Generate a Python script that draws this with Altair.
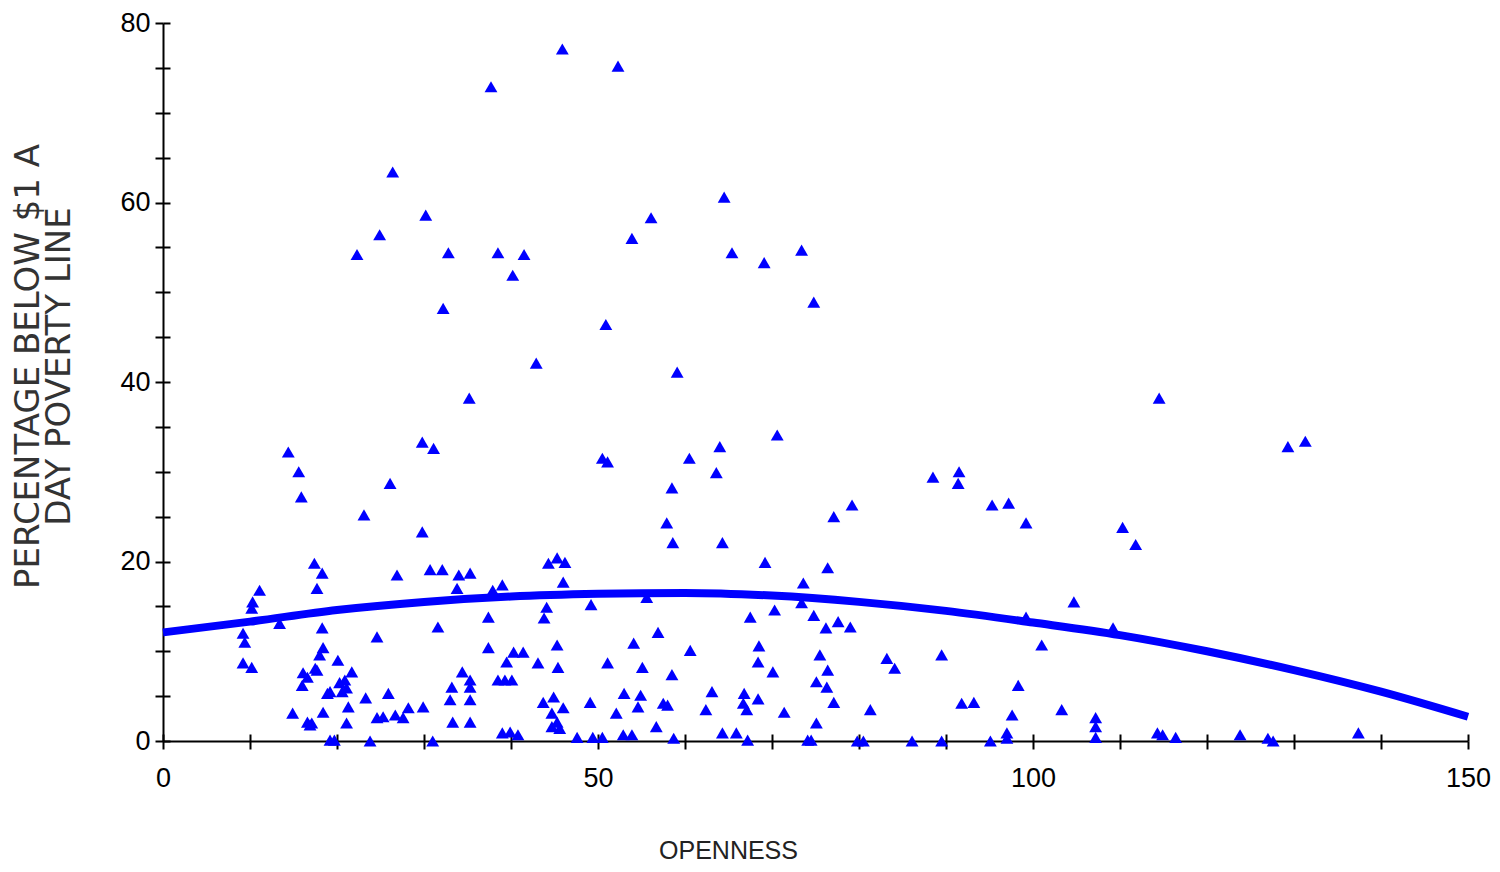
import altair as alt
import pandas as pd

# Scatter: openness vs. percentage below $1 a day poverty line
openness = [
    45.9, 52.3, 37.7, 26.4, 64.5, 30.2, 56.1, 24.9, 53.9, 22.3,
    32.8, 38.5, 41.5, 40.2, 65.4, 69.1, 73.4, 74.8, 32.2, 50.9,
    42.9, 59.1, 35.2, 114.5, 70.6, 29.8, 31.1, 129.3, 131.3, 14.4,
    64.0, 50.5, 51.1, 60.5, 15.6, 15.9, 63.6, 88.5, 91.5, 91.4,
    26.1, 58.5, 79.2, 95.3, 97.2, 99.2, 77.1, 57.9, 110.3, 111.8,
    23.1, 29.8, 64.3, 58.6, 17.4, 18.3, 17.7, 26.9, 30.7, 32.1,
    34.0, 35.3, 33.8, 44.3, 45.3, 46.2, 46.0, 39.0, 37.9, 44.1,
    43.8, 49.2, 55.6, 69.2, 76.4, 73.6, 73.4, 74.8, 67.5, 70.3,
    76.2, 77.6, 79.0, 104.7, 11.1, 10.3, 10.2, 13.4, 9.2, 9.4,
    9.2, 10.2, 18.3, 18.4, 18.0, 24.6, 31.6, 37.4, 37.4, 40.3,
    41.4, 45.3, 54.1, 60.6, 68.5, 56.9, 39.5, 43.1, 45.4, 51.1,
    55.1, 68.4, 58.5, 70.1, 38.5, 39.3, 40.1, 43.7, 44.9, 46.0,
    44.7, 45.3, 45.6, 44.7, 49.1, 52.1, 53.0, 54.9, 54.6, 57.5,
    58.0, 56.7, 63.1, 62.4, 66.8, 66.7, 67.1, 68.4, 71.4, 39.0,
    39.9, 40.8, 47.6, 49.4, 50.5, 52.9, 53.9, 58.7, 64.3, 65.9,
    67.2, 74.1, 16.1, 16.6, 16.0, 17.5, 17.7, 20.1, 21.7, 20.9,
    20.3, 21.1, 20.6, 19.2, 18.9, 21.3, 21.1, 23.3, 25.9, 29.9,
    28.2, 26.7, 25.3, 24.6, 27.6, 34.4, 35.3, 35.3, 33.2, 33.0,
    35.3, 33.3, 35.3, 14.9, 18.4, 16.6, 17.1, 16.9, 19.2, 19.7,
    23.8, 31.0, 101.0, 75.5, 76.4, 76.3, 75.1, 77.1, 83.2, 84.1,
    89.5, 98.3, 81.3, 91.8, 93.2, 97.6, 103.3, 75.1, 107.2, 107.2,
    74.5, 79.8, 80.5, 86.1, 89.5, 95.1, 97.0, 97.0, 107.2, 114.3,
    114.9, 116.4, 123.8, 127.0, 127.6, 137.4, 99.2, 109.2,
]
poverty = [
    77.1, 75.2, 72.9, 63.4, 60.6, 58.6, 58.3, 56.4, 56.0, 54.2,
    54.4, 54.4, 54.2, 51.9, 54.4, 53.3, 54.7, 48.9, 48.2, 46.4,
    42.1, 41.1, 38.2, 38.2, 34.1, 33.3, 32.6, 32.8, 33.4, 32.2,
    32.8, 31.5, 31.1, 31.5, 30.0, 27.2, 29.9, 29.4, 30.0, 28.7,
    28.7, 28.2, 26.3, 26.3, 26.5, 24.3, 25.0, 24.3, 23.8, 21.9,
    25.2, 23.3, 22.1, 22.1, 19.8, 18.7, 17.0, 18.5, 19.1, 19.1,
    18.5, 18.7, 17.0, 19.8, 20.4, 19.9, 17.7, 17.4, 16.8, 14.9,
    13.7, 15.2, 16.0, 19.9, 19.3, 17.6, 15.4, 14.0, 13.8, 14.6,
    12.6, 13.3, 12.7, 15.5, 16.8, 15.5, 14.8, 13.1, 12.0, 11.0,
    8.7, 8.2, 12.6, 10.4, 9.6, 11.6, 12.7, 13.8, 10.4, 9.9,
    9.9, 10.7, 10.9, 10.1, 10.6, 12.1, 8.8, 8.7, 8.2, 8.7,
    8.2, 8.8, 7.4, 7.7, 6.8, 6.8, 6.8, 4.3, 4.9, 3.7,
    3.1, 2.1, 1.4, 1.6, 4.3, 3.1, 5.3, 5.1, 3.8, 4.2,
    4.0, 1.6, 5.5, 3.5, 5.3, 4.2, 3.5, 4.7, 3.2, 0.9,
    1.0, 0.7, 0.4, 0.4, 0.4, 0.7, 0.7, 0.3, 0.9, 0.9,
    0.1, 0.1, 7.6, 7.1, 6.2, 8.1, 7.9, 9.0, 7.7, 6.8,
    6.5, 5.9, 5.5, 5.5, 5.3, 3.8, 2.0, 4.8, 5.3, 3.8,
    3.7, 2.9, 2.7, 2.6, 2.6, 7.7, 6.8, 6.0, 6.0, 4.6,
    4.6, 2.1, 2.1, 3.1, 3.2, 2.1, 2.0, 1.8, 0.1, 0.1,
    0.0, 0.0, 10.7, 9.6, 7.9, 6.0, 6.6, 4.3, 9.2, 8.1,
    9.6, 6.2, 3.5, 4.2, 4.3, 2.9, 3.5, 2.0, 2.6, 1.6,
    0.1, 0.0, 0.0, 0.0, 0.0, 0.0, 0.9, 0.3, 0.4, 0.9,
    0.7, 0.4, 0.7, 0.3, 0.0, 0.9, 13.8, 12.6,
]

# Fitted curve
fit_x = [0, 10, 20, 30, 40, 50, 60, 70, 80, 90, 100, 110, 120, 130, 140, 150]
fit_y = [12.1, 13.3, 14.6, 15.5, 16.1, 16.4, 16.5, 16.2, 15.5, 14.5, 13.2, 11.8, 10.0, 7.9, 5.5, 2.7]

x_ticks = list(range(0, 151, 10))
y_ticks = list(range(0, 81, 5))

pts = pd.DataFrame({"OPENNESS": openness, "POVERTY": poverty})
fit = pd.DataFrame({"OPENNESS": fit_x, "POVERTY": fit_y})

BLUE = "#0000FF"
FONT = "Liberation Sans, Arial, sans-serif"
SCALE_X = alt.Scale(domain=[0, 150], nice=False, zero=False)
SCALE_Y = alt.Scale(domain=[0, 80], nice=False)

# Main (outer) axes with labels and titles
line = alt.Chart(fit).mark_line(
    color=BLUE, strokeWidth=8, clip=False, interpolate="monotone"
).encode(
    x=alt.X(
        "OPENNESS:Q",
        scale=SCALE_X,
        axis=alt.Axis(
            values=x_ticks,
            labelExpr="datum.value % 50 == 0 ? datum.label : ''",
            title="OPENNESS",
            titleX=565,
            titleY=109,
            titleAlign="center",
            titleBaseline="middle",
            titleFontSize=25,
            tickSize=8,
            labelPadding=16,
        ),
    ),
    y=alt.Y(
        "POVERTY:Q",
        scale=SCALE_Y,
        axis=alt.Axis(
            values=y_ticks,
            labelExpr="datum.value % 20 == 0 ? datum.label : ''",
            title=["PERCENTAGE BELOW $1  A", "DAY POVERTY LINE"],
            titleFont="DejaVu Sans",
            titleFontSize=34,
            titleLineHeight=31,
            titleAngle=270,
            titleX=-135,
            titleY=343,
            titleAlign="center",
            titleBaseline="middle",
            titleColor="#333333",
            tickSize=8,
            labelPadding=5,
        ),
    ),
)

# Inner halves of the crossing tick marks
points = alt.Chart(pts).mark_point(
    shape="triangle-up", filled=True, color=BLUE, size=165, opacity=1, clip=False
).encode(
    x=alt.X(
        "OPENNESS:Q",
        scale=SCALE_X,
        axis=alt.Axis(
            orient="top", offset=-718, values=x_ticks, labels=False, title=None,
            domain=False, tickSize=7,
        ),
    ),
    y=alt.Y(
        "POVERTY:Q",
        scale=SCALE_Y,
        axis=alt.Axis(
            orient="right", offset=-1305, values=y_ticks, labels=False, title=None,
            domain=False, tickSize=7,
        ),
    ),
)

chart = (
    alt.layer(line, points)
    .resolve_axis(x="independent", y="independent")
    .properties(
        width=1305,
        height=718,
        autosize=alt.AutoSizeParams(type="none"),
        padding={"left": 155, "top": 15, "right": 24, "bottom": 123},
        background="white",
    )
    .configure_view(stroke=None)
    .configure_axis(
        grid=False,
        domainColor="black",
        domainWidth=2,
        tickColor="black",
        tickWidth=2,
        labelFont=FONT,
        labelFontSize=27,
        labelColor="black",
        titleFont=FONT,
        titleFontWeight="normal",
        titleColor="#222222",
        labelOverlap=False,
        labelFlush=False,
    )
)

chart.save("out.html", embed_options={"renderer": "svg", "actions": False})
